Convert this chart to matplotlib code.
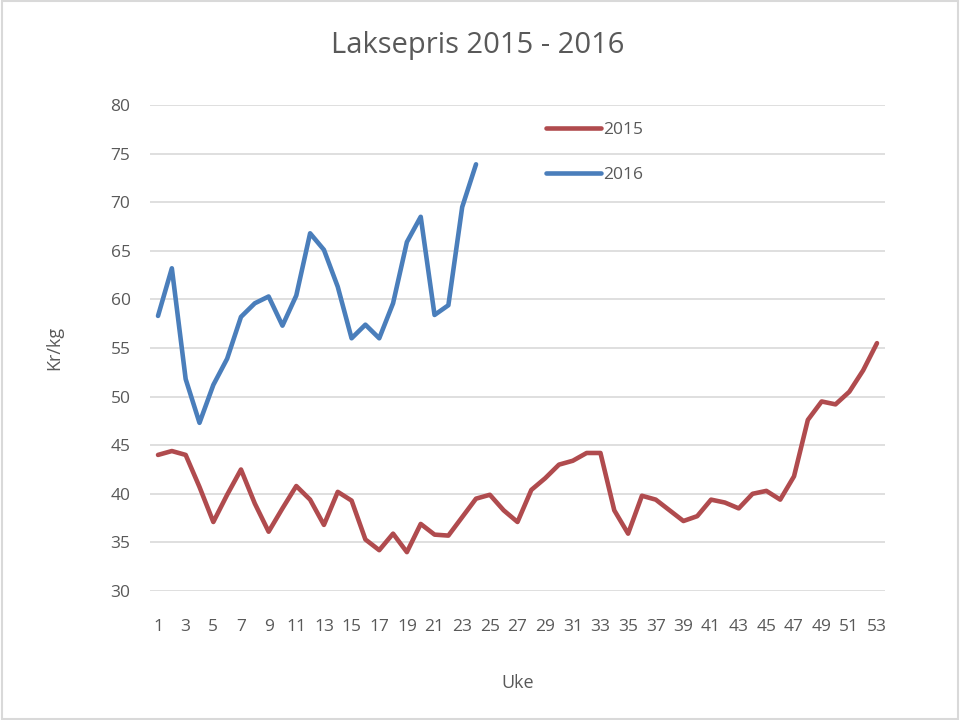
import matplotlib
matplotlib.use("Agg")
import matplotlib.pyplot as plt
from matplotlib.patches import Rectangle

weeks_2015 = list(range(1, 54))
values_2015 = [44.0, 44.4, 44.0, 40.7, 37.1, 39.9, 42.5, 39.0, 36.1, 38.5,
               40.8, 39.4, 36.8, 40.2, 39.3, 35.3, 34.2, 35.9, 34.0, 36.9,
               35.8, 35.7, 37.6, 39.5, 39.9, 38.3, 37.1, 40.4, 41.6, 43.0,
               43.4, 44.2, 44.2, 38.3, 35.9, 39.8, 39.4, 38.3, 37.2, 37.7,
               39.4, 39.1, 38.5, 40.0, 40.3, 39.4, 41.8, 47.6, 49.5, 49.2,
               50.5, 52.7, 55.5]
weeks_2016 = list(range(1, 25))
values_2016 = [58.3, 63.2, 51.8, 47.3, 51.2, 53.9, 58.2, 59.6, 60.3, 57.3,
               60.4, 66.8, 65.1, 61.3, 56.0, 57.4, 56.0, 59.6, 65.9, 68.5,
               58.4, 59.4, 69.5, 73.9]
tick_weeks = list(range(1, 54, 2))
y_ticks = [30, 35, 40, 45, 50, 55, 60, 65, 70, 75, 80]

title = "Laksepris 2015 - 2016"
xlabel = "Uke"
ylabel = "Kr/kg"

plt.rcParams['font.family'] = ['Open Sans', 'DejaVu Sans']
txt = '#595959'

fig = plt.figure(figsize=(9.6, 7.2), dpi=100)
ax = fig.add_axes([150/960, 1-591/720, 735/960, 486/720])

ax.plot(weeks_2015, values_2015, color='#B04B4E', lw=3.3, label='2015',
        solid_capstyle='round', solid_joinstyle='round')
ax.plot(weeks_2016, values_2016, color='#4A7EBB', lw=3.3, label='2016',
        solid_capstyle='round', solid_joinstyle='round')

ax.set_xlim(0.42, 53.58)
ax.set_ylim(30, 80)
ax.set_yticks(y_ticks)
ax.set_xticks(tick_weeks)
ax.set_xticklabels([str(w) for w in tick_weeks])
ax.grid(axis='y', color='#D9D9D9', lw=1.2)
ax.set_axisbelow(True)
for s in ax.spines.values():
    s.set_visible(False)
ax.tick_params(axis='both', length=0, labelsize=12.5, colors=txt)
ax.tick_params(axis='y', pad=14)
ax.tick_params(axis='x', pad=20)

ax.set_xlabel(xlabel, fontsize=13, color=txt, labelpad=28)
ax.set_ylabel(ylabel, fontsize=13, color=txt, labelpad=34)
fig.text(478/960, 1-45/720, title, ha='center', va='center', fontsize=21, color=txt)

leg = ax.legend(loc='upper left', bbox_to_anchor=(380/735, 0.997), frameon=False,
                fontsize=12.5, handlelength=3.2, handletextpad=0.1, labelspacing=1.66,
                labelcolor=txt)

fig.patches.append(Rectangle((0.002, 0.002), 0.996, 0.996, transform=fig.transFigure,
                             fill=False, edgecolor='#D9D9D9', lw=1.5))

fig.savefig('out.png', dpi=100, facecolor='white')
